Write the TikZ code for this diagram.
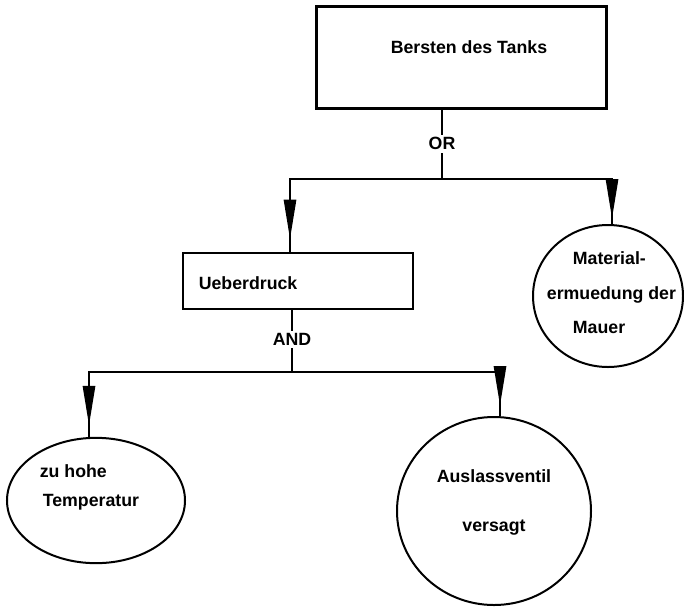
\documentclass[tikz,border=0pt]{standalone}
\usepackage{fontspec}
\setmainfont{Liberation Sans}
\usetikzlibrary{arrows.meta,decorations.markings,shapes.geometric}

\tikzset{
  event/.style={draw, line width=2.2pt, rectangle, inner sep=0pt},
  leaf/.style={draw, line width=1.5pt, ellipse, inner sep=0pt},
  lbl/.style={inner sep=0pt, font=\fontsize{13.3}{15}\selectfont\bfseries},
  gate/.style={fill=white, inner sep=2pt, font=\fontsize{13.3}{15}\selectfont\bfseries},
  wire/.style={line width=2.2pt},
  midarrow/.style={postaction={decorate}, decoration={markings,
    mark=at position -#1 with {\arrow{Triangle[length=30pt,width=9pt]}}}}
}

\begin{document}
\begin{tikzpicture}[x=0.75pt, y=-0.75pt]
\path[use as bounding box] (0,0) rectangle (684,607);

% events
\node[event, minimum width=218pt, minimum height=76pt,
      label={[lbl, xshift=5.6pt, yshift=7.9pt]center:Bersten des Tanks}]
      (top) at (461.5,57.5) {};
\node[event, minimum width=172.5pt, minimum height=42pt,
      label={[lbl, anchor=west, xshift=12.75pt, yshift=-1.5pt]west:Ueberdruck}]
      (ueber) at (298,281) {};

% basic events
\node[leaf, minimum width=112.5pt, minimum height=106.5pt,
      label={[lbl, align=left, xshift=2.6pt, yshift=2.25pt,
              font=\fontsize{13.3}{25.9}\selectfont\bfseries]center:
              \hspace*{19.5pt}Material-\\ermuedung der\\\hspace*{19.5pt}Mauer}]
      (mat) at (608,296) {};
\node[leaf, minimum width=133.5pt, minimum height=94pt,
      label={[lbl, align=left, xshift=-4.9pt, yshift=9.75pt,
              font=\fontsize{13.3}{21.75}\selectfont\bfseries]center:
              zu hohe\\\hspace*{2.25pt}Temperatur}]
      (temp) at (96,500.5) {};
\node[leaf, minimum width=145.5pt, minimum height=141pt,
      label={[lbl, align=center, yshift=6.4pt,
              font=\fontsize{13.3}{36.75}\selectfont\bfseries]center:
              Auslassventil\\versagt}]
      (ventil) at (494,511) {};

% gate junctions
\coordinate (orj) at (442,179);
\coordinate (andj) at (292,372);

% OR gate
\draw[wire] (orj |- top.south) -- node[gate, pos=0.49] {OR} (orj);
\draw[wire, midarrow=9pt] (orj) -| ([xshift=-6pt]ueber.north);
\draw[wire, midarrow=3.75pt] (orj) -| ([xshift=3pt]mat.north);

% AND gate
\draw[wire] (andj |- ueber.south) -- node[gate, pos=0.47] {AND} (andj);
\draw[wire, midarrow=8.25pt] (andj) -| ([xshift=-5.25pt]temp.north);
\draw[wire, midarrow=7.5pt] (andj) -| ([xshift=4.5pt]ventil.north);
\end{tikzpicture}
\end{document}
